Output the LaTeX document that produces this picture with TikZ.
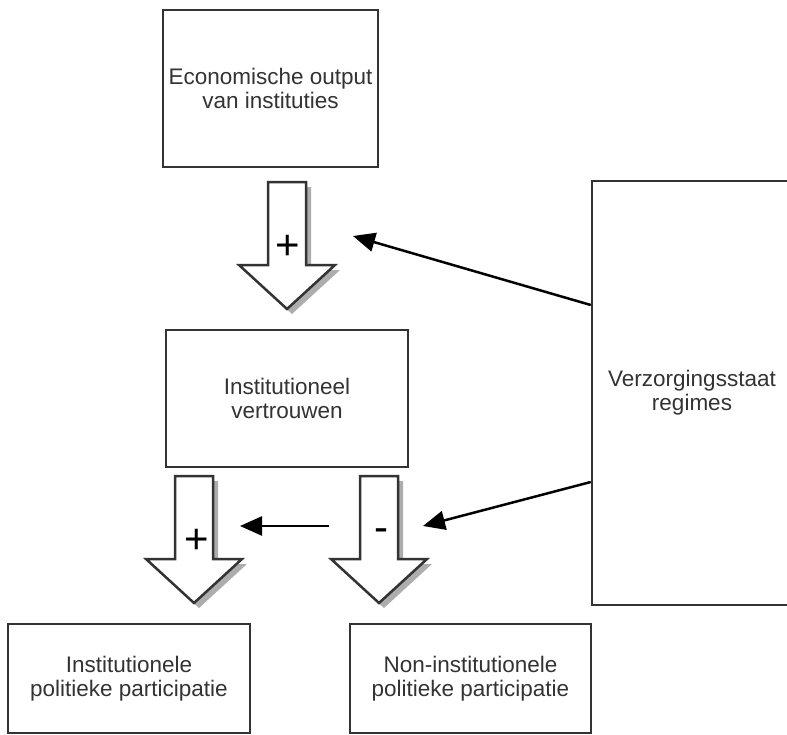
\documentclass[tikz,border=0pt]{standalone}
\usepackage{fontspec}
\setmainfont{Liberation Sans}
\usetikzlibrary{arrows.meta,shadows}
\definecolor{boxgray}{HTML}{333333}
\definecolor{txtgray}{HTML}{333333}
\tikzset{
  conceptbox/.style={draw=boxgray, line width=2.5pt, fill=white, align=center,
    text=txtgray, font=\fontsize{22.5}{24}\selectfont, inner sep=0pt},
  blockarrow/.style={draw=boxgray, line width=2.5pt, fill=white, line join=miter,
    drop shadow={shadow xshift=5pt, shadow yshift=-5pt, fill=black!32, opacity=1}},
  effectarrow/.style={-{Triangle[length=22pt, width=19pt]}, line width=2.5pt, draw=black},
  signlabel/.style={font=\fontsize{42}{42}\selectfont, inner sep=0pt, text=black}
}

\begin{document}
\begin{tikzpicture}[x=1pt, y=-1pt]
    \useasboundingbox (0,0) rectangle (787,734);
    % concepts
    \node[conceptbox, minimum width=215pt, minimum height=157pt] (econ) at (270.5,88.5) {Economische output\\van instituties};
    \node[conceptbox, minimum width=242pt, minimum height=137pt] (trust) at (287,398.5) {Institutioneel\\vertrouwen};
    \node[conceptbox, minimum width=242pt, minimum height=109pt] (instpart) at (129,678.5) {Institutionele\\politieke participatie};
    \node[conceptbox, minimum width=241pt, minimum height=109pt] (noninst) at (470.5,678.5) {Non-institutionele\\politieke participatie};
    \node[conceptbox, minimum width=200pt, minimum height=424pt] (regime) at (692,393) {Verzorgingsstaat\\regimes};
    % block arrows
    \foreach \cx/\ty in {287/182, 194/476, 379/476}{
        \draw[blockarrow] ({\cx-19},\ty) -- ({\cx+19},\ty) -- ({\cx+19},{\ty+83}) -- ({\cx+48},{\ty+83})
            -- (\cx,{\ty+127}) -- ({\cx-48},{\ty+83}) -- ({\cx-19},{\ty+83}) -- cycle;
    }
    \node[signlabel] (plusA) at (288,247) {+};
    \node[signlabel] (plusB) at (197,541) {+};
    \node[signlabel] (minB) at (381,535) {-};
    % moderation
    \coordinate (tipA) at (353,236);
    \coordinate (tipB) at (423,526);
    \coordinate (hstart) at (329,526);
    \coordinate (hend) at (240,526);
    \draw[effectarrow] ([yshift=88pt]regime.west) -- (tipA);
    \draw[effectarrow] ([yshift=-89pt]regime.west) -- (tipB);
    \draw[effectarrow] (hstart) -- (hend);
\end{tikzpicture}
\end{document}
